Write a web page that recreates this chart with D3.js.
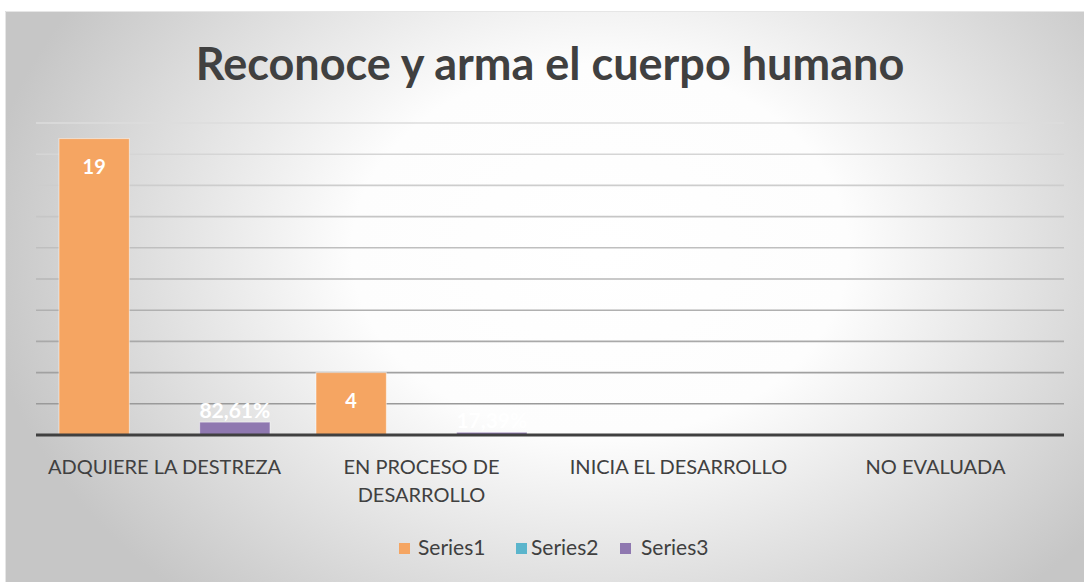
<!DOCTYPE html>
<html>
<head>
<meta charset="utf-8">
<script src="https://cdn.jsdelivr.net/npm/d3@7"></script>
<style>
  body { margin:0; background:#fff; }
  svg { display:block; }
</style>
</head>
<body>
<script>
var W = 1084, H = 582;
var margin = {left:36, right:20, top:123, bottom:147};

// chart data
var titleText = "Reconoce y arma el cuerpo humano";
var categories = ["ADQUIERE LA DESTREZA", "EN PROCESO DE DESARROLLO", "INICIA EL DESARROLLO", "NO EVALUADA"];
var seriesNames = ["Series1", "Series2", "Series3"];
var series1 = [19, 4, null, null];
var series2 = [null, null, null, null];
var series3 = [0.8261, 0.1739, null, null];
var series3Labels = ["82,61%", "17,39%", "", ""];
var yTicks = [0, 2, 4, 6, 8, 10, 12, 14, 16, 18, 20];

var colors = ["#f5a562", "#5bb5cc", "#8f78b0"];
var font = "Lato, 'Open Sans', sans-serif";

var svg = d3.select("body").append("svg").attr("width", W).attr("height", H);

var defs = svg.append("defs");
var bg = defs.append("radialGradient").attr("id","bg")
    .attr("gradientUnits","userSpaceOnUse")
    .attr("cx", 600).attr("cy", 250).attr("r", 620)
    .attr("gradientTransform","translate(600,250) scale(1,0.75) translate(-600,-250)");
bg.append("stop").attr("offset","0%").attr("stop-color","#ffffff");
bg.append("stop").attr("offset","40%").attr("stop-color","#fdfdfd");
bg.append("stop").attr("offset","100%").attr("stop-color","#c6c6c6");

svg.append("rect").attr("x",5).attr("y",11).attr("width",W-5).attr("height",H-11)
    .attr("fill","url(#bg)");
svg.append("path").attr("d","M5.5,582V11.5H1084").attr("fill","none").attr("stroke","#e6e6e6").attr("stroke-width",1);

var x0 = d3.scaleBand().domain(categories).range([margin.left, W - margin.right]);
var x1 = d3.scaleBand().domain(seriesNames).range([23, x0.bandwidth() - 23]);
var y = d3.scaleLinear().domain([0, 20]).range([H - margin.bottom, margin.top]);

// title
svg.append("text").attr("x", 550).attr("y", 80).attr("text-anchor","middle")
    .attr("font-family", font).attr("font-weight","bold")
    .attr("font-size", 45).attr("fill","#404040").text(titleText);

// gridlines
var gridShade = d3.scaleLinear().domain([20, 2]).range(["#dcdcdc", "#9a9a9a"]);
svg.append("g").selectAll("line").data(yTicks.filter(function(d){return d > 0;}))
    .enter().append("line")
    .attr("x1", margin.left).attr("x2", W - margin.right)
    .attr("y1", function(d){return y(d);}).attr("y2", function(d){return y(d);})
    .attr("stroke", function(d){return gridShade(d);}).attr("stroke-width", 1.6);

// bars
var allSeries = [series1, series2, series3];
var barData = [];
allSeries.forEach(function(vals, si){
  vals.forEach(function(v, ci){
    if (v !== null) barData.push({s: seriesNames[si], si: si, c: categories[ci], ci: ci, v: v});
  });
});

svg.append("g").selectAll("rect").data(barData).enter().append("rect")
    .attr("x", function(d){return x0(d.c) + x1(d.s);})
    .attr("y", function(d){return y(d.v);})
    .attr("width", x1.bandwidth())
    .attr("height", function(d){return y(0) - y(d.v);})
    .attr("fill", function(d){return colors[d.si];})
    .attr("stroke", "rgba(255,255,255,0.5)").attr("stroke-width", 1);

// baseline
svg.append("line").attr("x1", margin.left).attr("x2", W - margin.right)
    .attr("y1", y(0)).attr("y2", y(0)).attr("stroke","#404040").attr("stroke-width",3);

// series1 labels (inside end)
svg.append("g").selectAll("text").data(barData.filter(function(d){return d.si === 0;}))
    .enter().append("text")
    .attr("x", function(d){return x0(d.c) + x1(d.s) + x1.bandwidth()/2;})
    .attr("y", function(d){return y(d.v) + 35;})
    .attr("text-anchor","middle").attr("font-family", font)
    .attr("font-weight","bold").attr("font-size",20).attr("fill","#ffffff")
    .text(function(d){return d.v;});

// series3 labels (outside end)
svg.append("g").selectAll("text").data(barData.filter(function(d){return d.si === 2;}))
    .enter().append("text")
    .attr("x", function(d){return x0(d.c) + x1(d.s) + x1.bandwidth()/2;})
    .attr("y", function(d){return y(d.v) - 4;})
    .attr("text-anchor","middle").attr("font-family", font)
    .attr("font-weight","bold").attr("font-size",21).attr("fill","#ffffff")
    .text(function(d){return series3Labels[d.ci];});

// category labels
var catLines = [["ADQUIERE LA DESTREZA"], ["EN PROCESO DE", "DESARROLLO"], ["INICIA EL DESARROLLO"], ["NO EVALUADA"]];
var catG = svg.append("g");
categories.forEach(function(c, i){
  var t = catG.append("text").attr("x", x0(c) + x0.bandwidth()/2).attr("y", 474)
      .attr("text-anchor","middle").attr("font-family", font)
      .attr("font-size",20).attr("fill","#404040");
  catLines[i].forEach(function(l, j){
    t.append("tspan").attr("x", x0(c) + x0.bandwidth()/2).attr("dy", j === 0 ? 0 : 28).text(l);
  });
});

// legend
var legX = [399, 516, 620];
var legTextX = [418, 531, 641];
var leg = svg.append("g");
seriesNames.forEach(function(s, i){
  leg.append("rect").attr("x", legX[i]).attr("y", 543).attr("width", 11).attr("height", 11)
      .attr("fill", colors[i]);
  leg.append("text").attr("x", legTextX[i]).attr("y", 555)
      .attr("font-family", font).attr("font-size",21)
      .attr("fill","#404040").text(s);
});
</script>
</body>
</html>
